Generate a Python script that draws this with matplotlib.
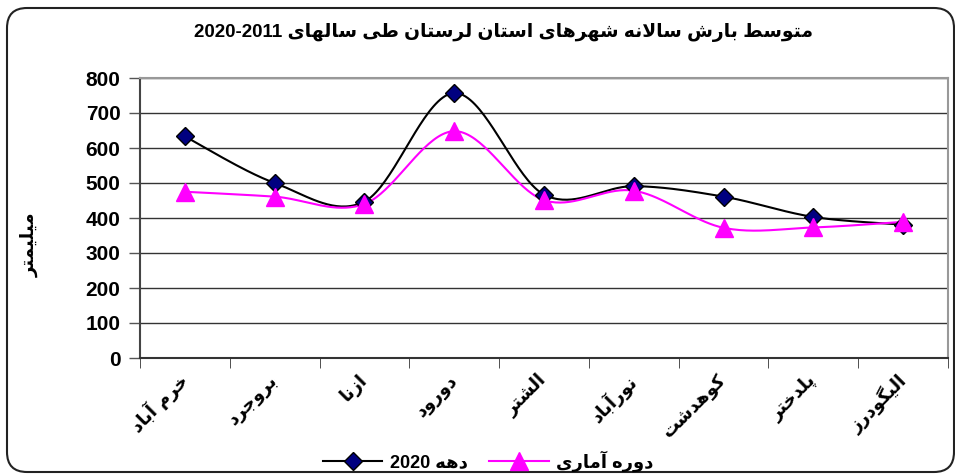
import re
import numpy as np
import matplotlib
matplotlib.use('Agg')
import matplotlib.pyplot as plt
from matplotlib.patches import FancyBboxPatch

# داده ها
shahrha = ['خرم آباد', 'بروجرد', 'ازنا', 'دورود', 'الشتر', 'نورآباد', 'کوهدشت', 'پلدختر', 'الیگودرز']
dahe_2020 = [633, 500, 447, 757, 467, 491, 461, 403, 381]
dore_amari = [475, 461, 440, 648, 451, 478, 372, 373, 389]
y_ticks = [0, 100, 200, 300, 400, 500, 600, 700, 800]
onvan = 'متوسط بارش سالانه شهرهای استان لرستان طی سالهای 2020-2011'
onvan_y = 'میلیمتر'
legend_labels = ['دهه 2020', 'دوره آماری']

# matplotlib 3.10 does no arabic shaping -> small reshaper (iso, fin, ini, med)
FORMS = {
    'ا': (0xFE8D, 0xFE8E, None, None), 'آ': (0xFE81, 0xFE82, None, None),
    'ب': (0xFE8F, 0xFE90, 0xFE91, 0xFE92), 'پ': (0xFB56, 0xFB57, 0xFB58, 0xFB59),
    'ت': (0xFE95, 0xFE96, 0xFE97, 0xFE98), 'ج': (0xFE9D, 0xFE9E, 0xFE9F, 0xFEA0),
    'خ': (0xFEA5, 0xFEA6, 0xFEA7, 0xFEA8), 'د': (0xFEA9, 0xFEAA, None, None),
    'ر': (0xFEAD, 0xFEAE, None, None), 'ز': (0xFEAF, 0xFEB0, None, None),
    'س': (0xFEB1, 0xFEB2, 0xFEB3, 0xFEB4), 'ش': (0xFEB5, 0xFEB6, 0xFEB7, 0xFEB8),
    'ط': (0xFEC1, 0xFEC2, 0xFEC3, 0xFEC4), 'ع': (0xFEC9, 0xFECA, 0xFECB, 0xFECC),
    'ک': (0xFB8E, 0xFB8F, 0xFB90, 0xFB91), 'گ': (0xFB92, 0xFB93, 0xFB94, 0xFB95),
    'ل': (0xFEDD, 0xFEDE, 0xFEDF, 0xFEE0), 'م': (0xFEE1, 0xFEE2, 0xFEE3, 0xFEE4),
    'ن': (0xFEE5, 0xFEE6, 0xFEE7, 0xFEE8), 'ه': (0xFEE9, 0xFEEA, 0xFEEB, 0xFEEC),
    'و': (0xFEED, 0xFEEE, None, None), 'ی': (0xFBFC, 0xFBFD, 0xFBFE, 0xFBFF),
}
LAM_ALEF = {'ا': (0xFEFB, 0xFEFC), 'آ': (0xFEF5, 0xFEF6)}


def dual(c):
    return c in FORMS and FORMS[c][2] is not None


def shape(text):
    # letters -> (char, joining_right_only?) after lam-alef merge
    items = []
    i = 0
    while i < len(text):
        c = text[i]
        if c == 'ل' and i + 1 < len(text) and text[i + 1] in LAM_ALEF:
            items.append(('LA', text[i + 1]))
            i += 2
        else:
            items.append((c, None))
            i += 1
    out = []
    for k, (c, extra) in enumerate(items):
        prev = items[k - 1][0] if k > 0 else ''
        nxt = items[k + 1][0] if k + 1 < len(items) else ''
        join_prev = dual(prev)
        if c == 'LA':
            out.append(chr(LAM_ALEF[extra][1 if join_prev else 0]))
            continue
        if c not in FORMS:
            out.append(c)
            continue
        join_next = dual(c) and (nxt in FORMS or nxt == 'LA')
        iso, fin, ini, med = FORMS[c]
        if join_prev and join_next:
            code = med
        elif join_prev:
            code = fin
        elif join_next:
            code = ini
        else:
            code = iso
        out.append(chr(code))
    s = ''.join(out)
    # visual order: reverse, but keep latin/digit runs left-to-right
    parts = re.split(r'([0-9A-Za-z\-]+)', s)
    parts = [p if re.fullmatch(r'[0-9A-Za-z\-]+', p) else p[::-1] for p in parts if p]
    return ''.join(parts[::-1])


def smooth(ys, n=40):
    # excel-like smoothed line (catmull-rom bezier)
    p = np.column_stack([np.arange(len(ys)), ys]).astype(float)
    p = np.vstack([p[0], p, p[-1]])
    t = np.linspace(0, 1, n)[:, None]
    seg = []
    for i in range(1, len(p) - 2):
        b0, b3 = p[i], p[i + 1]
        b1 = b0 + (p[i + 1] - p[i - 1]) / 6
        b2 = b3 - (p[i + 2] - p[i]) / 6
        seg.append((1 - t) ** 3 * b0 + 3 * (1 - t) ** 2 * t * b1 + 3 * (1 - t) * t ** 2 * b2 + t ** 3 * b3)
    c = np.vstack(seg)
    return c[:, 0], c[:, 1]


plt.rcParams['font.family'] = ['Liberation Sans', 'DejaVu Sans']
plt.rcParams['font.weight'] = 'bold'

fig = plt.figure(figsize=(9.55, 4.76), dpi=100)
ax = fig.add_axes([140 / 955, 1 - 358 / 476, 808 / 955, 280 / 476])

x = np.arange(len(shahrha))
xs, ys = smooth(dahe_2020)
ax.plot(xs, ys, color='black', lw=1.5, zorder=3)
ax.plot(x, dahe_2020, ls='none', marker='D', ms=9, mfc='#000080', mec='black', mew=1, zorder=4)
xs, ys = smooth(dore_amari)
ax.plot(xs, ys, color='#FF00FF', lw=1.5, zorder=3)
ax.plot(x, dore_amari, ls='none', marker='^', ms=13, mfc='#FF00FF', mec='#FF00FF', zorder=5)

ax.set_xlim(-0.5, len(shahrha) - 0.5)
ax.set_ylim(0, 800)
ax.set_yticks(y_ticks)
ax.yaxis.grid(True, color='#333333', lw=1)
ax.set_axisbelow(True)
ax.tick_params(axis='y', direction='out', length=8, width=1, color='#555555', labelsize=15, pad=6)

ax.set_xticks(x)
ax.set_xticklabels([shape(s) for s in shahrha], fontsize=13, fontweight='bold',
                   rotation=45, ha='right', va='center', rotation_mode='anchor', family='DejaVu Sans')
ax.set_xticks(np.arange(-0.5, len(shahrha)), minor=True)
ax.tick_params(axis='x', which='major', length=0, pad=14)
ax.tick_params(axis='x', which='minor', direction='out', length=7, color='#333333')

for side in ['top', 'right']:
    ax.spines[side].set_color('#999999')
    ax.spines[side].set_linewidth(1.5)
ax.spines['left'].set_color('#444444')
ax.spines['bottom'].set_color('#333333')
ax.spines['left'].set_linewidth(1.5)
ax.spines['bottom'].set_linewidth(1.5)

fig.text(503 / 955, 1 - 33 / 476, shape(onvan), ha='center', va='center', fontsize=13.5, fontweight='bold')
fig.text(30 / 955, 1 - 245 / 476, shape(onvan_y), ha='center', va='center', rotation=90,
         fontsize=13, fontweight='bold', family='DejaVu Sans')

handles = [
    plt.Line2D([], [], color='black', lw=1.5, marker='D', ms=9, mfc='#000080', mec='black'),
    plt.Line2D([], [], color='#FF00FF', lw=1.5, marker='^', ms=13, mfc='#FF00FF', mec='#FF00FF'),
]
fig.legend(handles, [shape(s) for s in legend_labels], loc='center', ncol=2,
           bbox_to_anchor=(488 / 955, 1 - 461 / 476), frameon=False, handlelength=3.3,
           columnspacing=1.2, handletextpad=0.4, prop={'size': 13, 'weight': 'bold'})

# rounded outer border
frame = FancyBboxPatch((0.07, 0.04), 9.47, 4.64, boxstyle='round,pad=0,rounding_size=0.2',
                       transform=fig.dpi_scale_trans, fill=False, ec='#222222', lw=1.5)
fig.patches.append(frame)

fig.savefig('out.png', dpi=100)
